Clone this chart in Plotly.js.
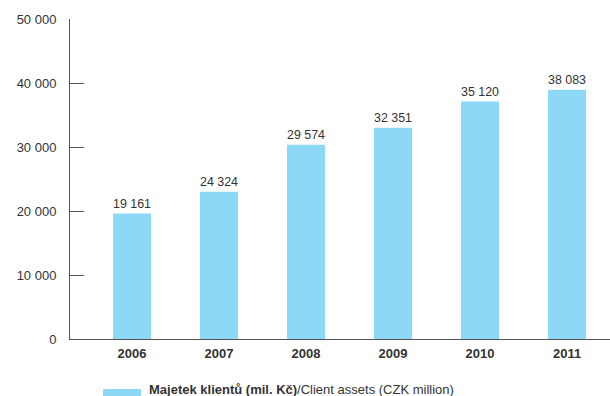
<!DOCTYPE html>
<html>
<head>
<meta charset="utf-8">
<script src="https://cdn.plot.ly/plotly-3.0.1.min.js"></script>
<style>html,body{margin:0;padding:0;background:#fff;}#chart{width:610px;height:396px;}</style>
</head>
<body>
<div id="chart"></div>
<script>
const years = ['2006', '2007', '2008', '2009', '2010', '2011'];
const barHeights = [19600, 23000, 30350, 33000, 37100, 38950];
const valueLabels = ['19 161', '24 324', '29 574', '32 351', '35 120', '38 083'];
const yTickValues = [0, 10000, 20000, 30000, 40000, 50000];
const yTickLabels = ['0', '10 000', '20 000', '30 000', '40 000', '50 000'];
const seriesNameCz = 'Majetek klientů (mil. Kč)';
const seriesNameEn = 'Client assets (CZK million)';

const barColor = '#8ED8F7';
const textColor = '#333333';
const axisColor = '#555555';
const fontFamily = '"Liberation Sans", Arial, sans-serif';
const fs = 13;

const trace = {
  type: 'bar',
  x: years,
  y: barHeights,
  text: valueLabels,
  textposition: 'outside',
  textfont: {family: fontFamily, size: fs, color: textColor},
  cliponaxis: false,
  marker: {color: barColor},
  hoverinfo: 'none',
  showlegend: false
};

const layout = {
  width: 610,
  height: 396,
  margin: {l: 70, r: 0, t: 19, b: 57},
  paper_bgcolor: '#ffffff',
  plot_bgcolor: '#ffffff',
  bargap: 0.563,
  font: {family: fontFamily, color: textColor, size: fs},
  xaxis: {
    type: 'category',
    range: [-0.713, 5.494],
    showline: true,
    linecolor: axisColor,
    linewidth: 1,
    ticks: '',
    showgrid: false,
    zeroline: false,
    tickfont: {family: fontFamily, size: fs, color: textColor, weight: 'bold'},
    ticklabelstandoff: 2,
    fixedrange: true
  },
  yaxis: {
    range: [0, 50000],
    showline: true,
    linecolor: axisColor,
    linewidth: 1,
    ticks: 'inside',
    ticklen: 14,
    tickwidth: 1,
    tickcolor: axisColor,
    tickvals: yTickValues,
    ticktext: yTickLabels,
    showgrid: false,
    zeroline: false,
    tickfont: {family: fontFamily, size: fs, color: textColor},
    ticklabelstandoff: 10,
    fixedrange: true
  },
  shapes: [{
    type: 'rect',
    xref: 'paper', yref: 'paper',
    x0: 0.0611, x1: 0.1315,
    y0: -0.178, y1: -0.156,
    fillcolor: barColor,
    line: {width: 0}
  }],
  annotations: [{
    xref: 'paper', yref: 'paper',
    x: 0.1426, y: -0.157,
    xanchor: 'left', yanchor: 'middle',
    showarrow: false,
    text: '<b>' + seriesNameCz + '</b>/' + seriesNameEn,
    font: {family: fontFamily, size: fs, color: textColor}
  }]
};

Plotly.newPlot('chart', [trace], layout, {staticPlot: true, displayModeBar: false});
</script>
</body>
</html>
